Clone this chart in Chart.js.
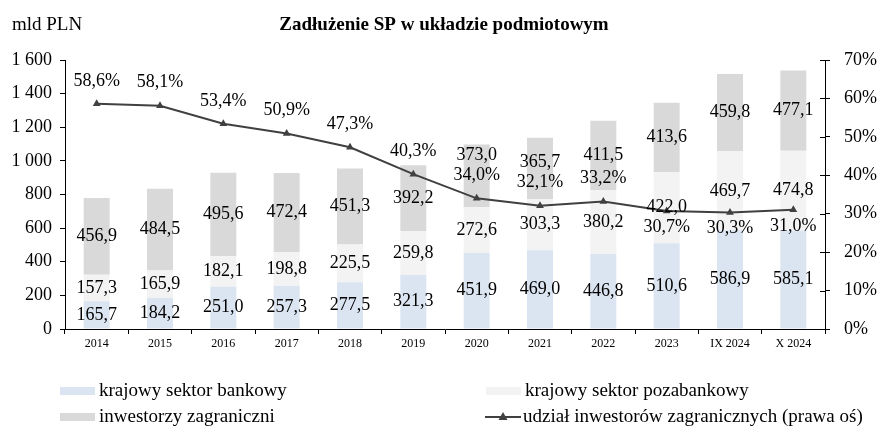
<!DOCTYPE html>
<html>
<head>
<meta charset="utf-8">
<script src="https://cdn.jsdelivr.net/npm/chart.js@4.4.1/dist/chart.umd.min.js"></script>
<style>
  html, body { margin: 0; padding: 0; background: #fff; }
  canvas { display: block; }
</style>
</head>
<body>
<canvas id="chart" width="893" height="442"></canvas>
<script>
// values (mld PLN, %)
const categories  = ['2014', '2015', '2016', '2017', '2018', '2019', '2020', '2021', '2022', '2023', 'IX 2024', 'X 2024'];
const bankowy     = [165.7, 184.2, 251.0, 257.3, 277.5, 321.3, 451.9, 469.0, 446.8, 510.6, 586.9, 585.1];
const pozabankowy = [157.3, 165.9, 182.1, 198.8, 225.5, 259.8, 272.6, 303.3, 380.2, 422.0, 469.7, 474.8];
const zagraniczni = [456.9, 484.5, 495.6, 472.4, 451.3, 392.2, 373.0, 365.7, 411.5, 413.6, 459.8, 477.1];
const udzial      = [58.6, 58.1, 53.4, 50.9, 47.3, 40.3, 34.0, 32.1, 33.2, 30.7, 30.3, 31.0];
const udzialLabelSide = ['top', 'top', 'top', 'top', 'top', 'top', 'top', 'top', 'top', 'bottom', 'bottom', 'bottom'];

const SERIF = '"Liberation Serif", "Times New Roman", serif';
const fmt = v => v.toFixed(1).replace('.', ',');
const fmtThousands = v => v >= 1000 ? `${Math.floor(v / 1000)} ${String(v % 1000).padStart(3, '0')}` : String(v);

// title, unit label, value labels, legend, right axis inner ticks
const decorations = {
  id: 'decorations',
  afterDatasetsDraw(chart) {
    const { ctx } = chart;
    ctx.save();
    ctx.fillStyle = '#000';
    ctx.textAlign = 'center';
    ctx.textBaseline = 'middle';
    ctx.font = `18px ${SERIF}`;

    // percent labels first, bar labels move up if they collide
    const lineMeta = chart.getDatasetMeta(3);
    const pctY = lineMeta.data.map((pt, i) => udzialLabelSide[i] === 'top' ? pt.y - 23 : pt.y + 16);
    lineMeta.data.forEach((pt, i) => ctx.fillText(fmt(udzial[i]) + '%', pt.x, pctY[i]));

    [0, 1, 2].forEach(di => {
      const meta = chart.getDatasetMeta(di);
      const vals = chart.data.datasets[di].data;
      meta.data.forEach((bar, i) => {
        let y = (bar.y + bar.base) / 2;
        if (Math.abs(y - pctY[i]) < 20) y = pctY[i] - 20;
        ctx.fillText(fmt(vals[i]), bar.x, y);
      });
    });
    ctx.restore();
  },
  afterDraw(chart) {
    const { ctx, chartArea } = chart;
    ctx.save();
    ctx.fillStyle = '#000';
    ctx.textBaseline = 'middle';

    ctx.font = `bold 19px ${SERIF}`;
    ctx.textAlign = 'center';
    ctx.fillText('Zadłużenie SP w układzie podmiotowym', 444, 25);
    ctx.font = `19px ${SERIF}`;
    ctx.textAlign = 'left';
    ctx.fillText('mld PLN', 12, 25);

    // right axis ticks also cross into the plot
    const y2 = chart.scales.y2;
    ctx.strokeStyle = '#000';
    ctx.lineWidth = 1;
    y2.ticks.forEach(t => {
      const y = Math.round(y2.getPixelForValue(t.value)) + 0.5;
      ctx.beginPath();
      ctx.moveTo(chartArea.right - 5, y);
      ctx.lineTo(chartArea.right, y);
      ctx.stroke();
    });

    // legend
    const ds = chart.data.datasets;
    const items = [
      { d: ds[0], x: 60, y: 391 },
      { d: ds[1], x: 486, y: 391 },
      { d: ds[2], x: 60, y: 417 },
      { d: ds[3], x: 485, y: 417, line: true }
    ];
    ctx.font = `19px ${SERIF}`;
    items.forEach(it => {
      if (it.line) {
        ctx.strokeStyle = it.d.borderColor;
        ctx.lineWidth = 2;
        ctx.beginPath();
        ctx.moveTo(it.x, it.y);
        ctx.lineTo(it.x + 36, it.y);
        ctx.stroke();
        ctx.fillStyle = it.d.borderColor;
        ctx.beginPath();
        ctx.moveTo(it.x + 18, it.y - 5);
        ctx.lineTo(it.x + 22.5, it.y + 3);
        ctx.lineTo(it.x + 13.5, it.y + 3);
        ctx.closePath();
        ctx.fill();
      } else {
        ctx.fillStyle = it.d.backgroundColor;
        ctx.fillRect(it.x, it.y - 4, 35, 8);
      }
      ctx.fillStyle = '#000';
      ctx.textAlign = 'left';
      ctx.fillText(it.d.label, it.x + (it.line ? 38 : 39), it.y);
    });
    ctx.restore();
  }
};

const barCommon = { type: 'bar', stack: 'sp', yAxisID: 'y', barPercentage: 0.82, categoryPercentage: 0.5, borderWidth: 0, order: 1 };

new Chart(document.getElementById('chart').getContext('2d'), {
  data: {
    labels: categories,
    datasets: [
      { ...barCommon, label: 'krajowy sektor bankowy',    data: bankowy,     backgroundColor: '#dbe4f1' },
      { ...barCommon, label: 'krajowy sektor pozabankowy', data: pozabankowy, backgroundColor: '#f3f3f3' },
      { ...barCommon, label: 'inwestorzy zagraniczni',    data: zagraniczni, backgroundColor: '#d9d9d9' },
      { type: 'line', label: 'udział inwestorów zagranicznych (prawa oś)', data: udzial, yAxisID: 'y2',
        borderColor: '#404040', backgroundColor: '#404040', borderWidth: 2, tension: 0,
        pointStyle: 'triangle', pointRadius: 4.5, pointBorderWidth: 0, order: 0 }
    ]
  },
  options: {
    responsive: false, animation: false, devicePixelRatio: 1,
    layout: { padding: { top: 60, bottom: 83, left: 0, right: 0 } },
    plugins: { legend: { display: false }, title: { display: false }, tooltip: { enabled: false } },
    scales: {
      x: {
        stacked: true, offset: true,
        grid: { offset: true, drawOnChartArea: false, tickLength: 5, color: '#000' },
        border: { color: '#000' },
        ticks: { color: '#000', font: { family: SERIF, size: 12 }, padding: 3, maxRotation: 0, autoSkip: false },
        afterFit: s => { s.height = 30; }
      },
      y: {
        stacked: true, position: 'left', min: 0, max: 1600,
        grid: { drawOnChartArea: false, tickLength: 5, color: '#000' },
        border: { color: '#000' },
        ticks: { stepSize: 200, color: '#000', padding: 8, font: { family: SERIF, size: 18 }, callback: v => fmtThousands(v) },
        afterFit: s => { s.width = 65; }
      },
      y2: {
        position: 'right', min: 0, max: 70,
        grid: { drawOnChartArea: false, tickLength: 5, color: '#000' },
        border: { color: '#000' },
        ticks: { stepSize: 10, color: '#000', padding: 14, font: { family: SERIF, size: 18 }, callback: v => v + '%' },
        afterFit: s => { s.width = 68; }
      }
    }
  },
  plugins: [decorations]
});
</script>
</body>
</html>
